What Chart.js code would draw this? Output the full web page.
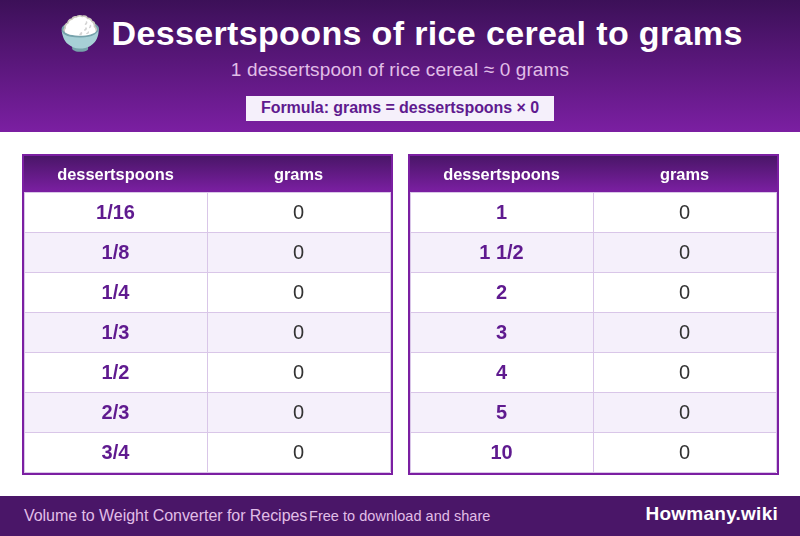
<!DOCTYPE html>
<html>
<head>
<meta charset="utf-8">
<script src="https://cdn.jsdelivr.net/npm/chart.js@4"></script>
<style>
html,body{margin:0;padding:0;width:800px;height:536px;overflow:hidden;background:#fff;font-family:"Liberation Sans",Arial,sans-serif}
#banner{position:absolute;left:0;top:0;width:800px;height:132px;background:linear-gradient(180deg,#3c1058,#7b1fa2)}
#title{position:absolute;left:1px;top:12px;width:800px;text-align:center;color:#fff;font-weight:bold;font-size:34px;letter-spacing:.36px;line-height:42px;white-space:nowrap}
#sub{position:absolute;left:0;top:59px;width:800px;text-align:center;color:#e1bee7;font-size:19px;letter-spacing:.12px;line-height:22px;white-space:nowrap}
#formula{position:absolute;left:246px;top:96px;width:308px;height:25px;background:#f5f0fb;color:#5f1a8f;font-weight:bold;font-size:16px;letter-spacing:-.06px;line-height:24px;text-align:center;white-space:nowrap}
.tbl{position:absolute;top:154px;width:371px;height:321px;box-sizing:border-box;border:2px solid #7b1fa2}
.tbl canvas{display:block}
#footer{position:absolute;left:0;top:496px;width:800px;height:40px;background:#4a1668}
#f1{position:absolute;left:24px;top:10px;color:#e1bee7;font-size:16px;letter-spacing:-.05px;line-height:20px;white-space:nowrap}
#f2{position:absolute;left:309px;top:10px;color:#e1bee7;font-size:14.5px;letter-spacing:.03px;line-height:20px;white-space:nowrap}
#f3{position:absolute;right:22px;top:6px;color:#fff;font-weight:bold;font-size:19px;letter-spacing:.25px;line-height:24px;white-space:nowrap}
</style>
</head>
<body>
<div id="banner">
  <div id="title">🍚 Dessertspoons of rice cereal to grams</div>
  <div id="sub">1 dessertspoon of rice cereal ≈ 0 grams</div>
  <div id="formula">Formula: grams = dessertspoons × 0</div>
</div>
<div class="tbl" style="left:22px"><canvas id="left" width="367" height="317"></canvas></div>
<div class="tbl" style="left:408px"><canvas id="right" width="367" height="317"></canvas></div>
<div id="footer">
  <div id="f1">Volume to Weight Converter for Recipes</div>
  <div id="f2">Free to download and share</div>
  <div id="f3">Howmany.wiki</div>
</div>
<script>
const columns = ["dessertspoons", "grams"];
const leftSpoons = ["1/16", "1/8", "1/4", "1/3", "1/2", "2/3", "3/4"];
const leftGrams = [0, 0, 0, 0, 0, 0, 0];
const rightSpoons = ["1", "1 1/2", "2", "3", "4", "5", "10"];
const rightGrams = [0, 0, 0, 0, 0, 0, 0];

const tablePlugin = {
  id: "tablePlugin",
  beforeDraw(chart) {
    const { ctx, chartArea: a, scales: { y } } = chart;
    const g = ctx.createLinearGradient(0, 0, 0, a.top);
    g.addColorStop(0, "#4a1668");
    g.addColorStop(1, "#7b1fa2");
    ctx.save();
    ctx.fillStyle = g;
    ctx.fillRect(0, 0, chart.width, a.top);
    ctx.fillStyle = "#ffffff";
    ctx.fillRect(0, a.top, chart.width, chart.height - a.top);
    ctx.fillStyle = "#f5f0fb";
    const h = y.getPixelForValue(1) - y.getPixelForValue(0);
    y.getLabels().forEach((label, i) => {
      if (i % 2 === 1) {
        ctx.fillRect(0, y.getPixelForValue(i) - h / 2, chart.width, h);
      }
    });
    ctx.restore();
  },
  afterDatasetsDraw(chart) {
    const { ctx } = chart;
    ctx.save();
    ctx.textAlign = "center";
    ctx.textBaseline = "middle";
    chart.data.datasets.forEach((ds, di) => {
      chart.getDatasetMeta(di).data.forEach((pt, i) => {
        ctx.font = ds.cellFont;
        ctx.fillStyle = ds.cellColor;
        ctx.fillText(String(ds.cellText[i]), pt.x, pt.y + 1);
      });
    });
    ctx.restore();
  }
};

function makeTable(id, rows, grams) {
  new Chart(document.getElementById(id), {
    type: "line",
    plugins: [tablePlugin],
    data: {
      datasets: [
        {
          label: columns[0],
          data: rows.map(r => ({ x: columns[0], y: r })),
          cellText: rows,
          cellFont: 'bold 20px "Liberation Sans"',
          cellColor: "#5f1a8f",
          showLine: false, pointRadius: 0
        },
        {
          label: columns[1],
          data: rows.map(r => ({ x: columns[1], y: r })),
          cellText: grams,
          cellFont: '20px "Liberation Sans"',
          cellColor: "#333333",
          showLine: false, pointRadius: 0
        }
      ]
    },
    options: {
      responsive: false,
      animation: false,
      devicePixelRatio: 1,
      layout: { padding: { left: 0, right: 1, top: 0, bottom: 1 } },
      plugins: { legend: { display: false }, tooltip: { enabled: false }, title: { display: false } },
      scales: {
        x: {
          type: "category",
          labels: columns,
          position: "top",
          offset: true,
          afterFit(s) { s.height = 36; },
          border: { display: false },
          grid: { offset: true, color: "#d9c6e8", drawTicks: false, lineWidth: 1 },
          ticks: { color: "#ffffff", font: { family: "Liberation Sans", weight: "bold", size: 16.4 }, padding: 7, maxRotation: 0, autoSkip: false }
        },
        y: {
          type: "category",
          labels: rows,
          offset: true,
          afterFit(s) { s.width = 0; },
          border: { display: false },
          grid: { offset: true, color: "#d9c6e8", drawTicks: false, lineWidth: 1 },
          ticks: { display: false }
        }
      }
    }
  });
}
makeTable("left", leftSpoons, leftGrams);
makeTable("right", rightSpoons, rightGrams);
</script>
</body>
</html>
